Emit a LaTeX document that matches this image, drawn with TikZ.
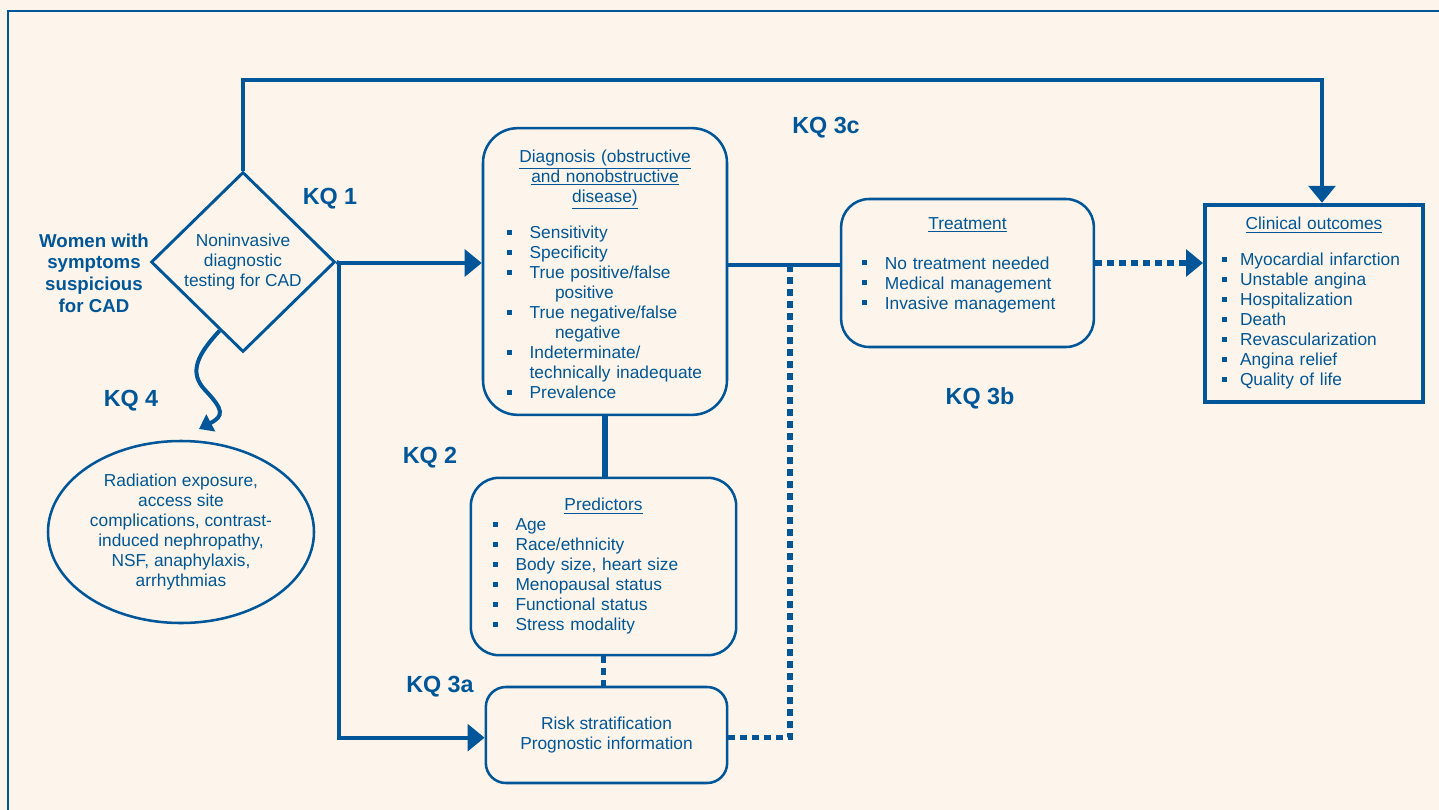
\documentclass[tikz,border=0pt]{standalone}
\usepackage{fontspec}
\setmainfont{Liberation Sans}
\usetikzlibrary{arrows.meta, shapes.geometric, positioning, calc}
\definecolor{kqblue}{RGB}{0,86,152}
\definecolor{paper}{RGB}{253,245,235}
\tikzstyle{roundBox} = [draw=kqblue, line width=1.9pt, rounded corners=24pt,
   text=kqblue, font=\fontsize{13}{15}\selectfont, align=left, inner ysep=0pt]
\tikzstyle{flowLine} = [draw=kqblue, line width=3pt]
\tikzstyle{flowArrow} = [flowLine, -{Triangle[length=12.75pt,width=20pt]}]
\tikzstyle{dotLine} = [draw=kqblue, line width=4pt, dash pattern=on 5pt off 4pt]
\tikzstyle{kqLabel} = [text=kqblue, font=\bfseries\fontsize{17.5}{20}\selectfont]
\newcommand{\sqb}{\makebox[17pt][l]{\rule[3pt]{3.75pt}{3.75pt}}}
\newcommand{\sqbs}{\makebox[13.5pt][l]{\rule[3pt]{3.75pt}{3.75pt}}}

\begin{document}
\begin{tikzpicture}[x=0.75pt, y=-0.75pt]
  \useasboundingbox (0,0) rectangle (1439,810);
  \fill[paper] (0,0) rectangle (1439,810);
  \draw[kqblue, line width=1.5pt] (8,830) -- (8,11) -- (1460,11);

  \node[draw=kqblue, line width=2.2pt, shape=diamond, inner sep=1pt,
    minimum width=138pt, minimum height=135pt, text=kqblue, align=center,
    font=\fontsize{13}{15}\selectfont] (test) at (243,262)
    {Noninvasive\\diagnostic\\testing for CAD};
  \node[text=kqblue, align=center, font=\bfseries\fontsize{14}{16.3}\selectfont]
    (women) at (94,273) {Women with\\symptoms\\suspicious\\for CAD};

  \node[roundBox, rounded corners=26pt, text width=147pt, inner xsep=18pt,
    minimum height=215pt] (diag) at (605,271.5)
    {{\centering\underline{Diagnosis (obstructive}\\
      \underline{and nonobstructive}\\ \underline{disease)}\par}\vspace{12pt}
     \sqb Sensitivity\\
     \sqb Specificity\\
     \sqb True positive/false\\ \hspace*{36pt}positive\\
     \sqb True negative/false\\ \hspace*{36pt}negative\\
     \sqb Indeterminate/\\ \hspace*{17pt}technically inadequate\\
     \sqb Prevalence\par\vspace*{-4.5pt}};
  \node[roundBox, rounded corners=21pt, text width=158pt, inner xsep=15.75pt,
    minimum height=111pt] (treat) at (967.5,273)
    {{\centering\underline{Treatment}\par}\vspace{15pt}
     \sqb No treatment needed\\
     \sqb Medical management\\
     \sqb Invasive management\par\vspace*{12pt}};
  \node[roundBox, rounded corners=0pt, line width=3pt, text width=138pt,
    inner xsep=12.75pt, minimum height=148pt] (clin) at (1314,303.5)
    {{\centering\underline{Clinical outcomes}\par}\vspace{12pt}
     \sqbs Myocardial infarction\\
     \sqbs Unstable angina\\
     \sqbs Hospitalization\\
     \sqbs Death\\
     \sqbs Revascularization\\
     \sqbs Angina relief\\
     \sqbs Quality of life};
  \node[roundBox, rounded corners=21pt, text width=166pt, inner xsep=16.5pt,
    minimum height=133pt] (pred) at (603.5,566.5)
    {{\centering\underline{Predictors}\par}
     \sqb Age\\
     \sqb Race/ethnicity\\
     \sqb Body size, heart size\\
     \sqb Menopausal status\\
     \sqb Functional status\\
     \sqb Stress modality};
  \node[roundBox, rounded corners=15pt, align=center, minimum width=181pt,
    minimum height=72pt] (risk) at (606.5,735)
    {Risk stratification\\Prognostic information};
  \node[draw=kqblue, line width=1.9pt, shape=ellipse, inner sep=0pt,
    minimum width=199.5pt, minimum height=136.5pt, text=kqblue, align=center,
    font=\fontsize{13}{15}\selectfont] (harm) at (181,532)
    {Radiation exposure,\\access site\\complications, contrast-\\
     induced nephropathy,\\NSF, anaphylaxis,\\arrhythmias};

  \node[kqLabel] (kq1) at (330,198.5) {KQ 1};
  \node[kqLabel] (kq2) at (430,457.5) {KQ 2};
  \node[kqLabel] (kq3a) at (440,686.5) {KQ 3a};
  \node[kqLabel] (kq3b) at (980,398.5) {KQ 3b};
  \node[kqLabel] (kq3c) at (826,127.5) {KQ 3c};
  \node[kqLabel] (kq4) at (131,400.5) {KQ 4};

  \coordinate (split) at (339,263);
  \coordinate (tap) at (790,265);
  \coordinate (outrow) at (1150,263);
  \coordinate (wavestart) at ($(test.west)!0.75!(test.south)$);
  \coordinate (waveend) at (199,429);

  \draw[flowLine] (test.east) -- (split);
  \draw[flowArrow] (split) -- (split -| diag.west);
  \draw[flowArrow] (split) |- ([yshift=-2pt]risk.west);
  \draw[flowArrow] (test.north) -- ++(0,-91) -| ([xshift=6pt]clin.north);
  \draw[flowLine] (tap -| diag.east) -- (tap -| treat.west);
  \draw[dotLine] (tap) |- ([yshift=-2pt]risk.east);
  \draw[dotLine, -{Triangle[length=12.75pt,width=20pt]}]
    (outrow -| treat.east) -- (outrow -| clin.west);
  \draw[flowLine, line width=4.5pt] (diag.south) -- (diag.south |- pred.north);
  \draw[dotLine] (pred.south) -- (pred.south |- risk.north);
  \draw[flowLine, -{Triangle[length=10pt,width=14pt]}] (wavestart)
    .. controls (198,354) and (188,372) .. (205,390)
    .. controls (224,410) and (224,416) .. (waveend);
\end{tikzpicture}
\end{document}
